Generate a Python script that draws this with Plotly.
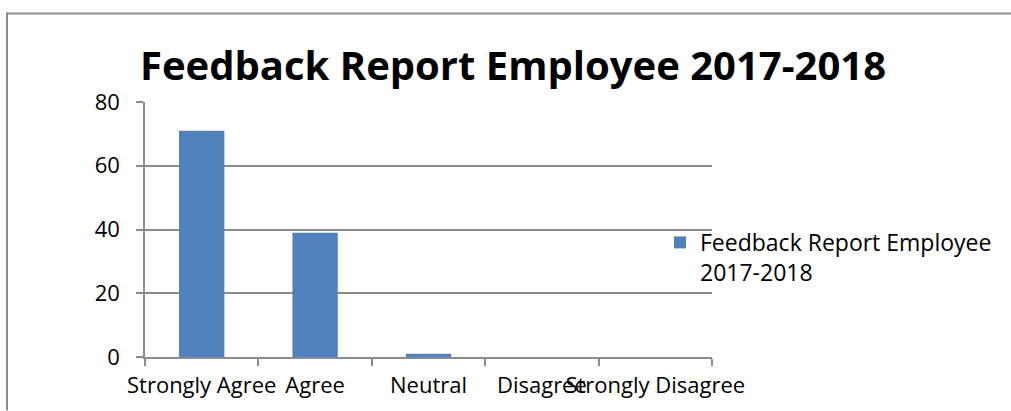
import plotly.graph_objects as go

categories = ["Strongly Agree", "Agree", "Neutral", "Disagree", "Strongly Disagree"]
values = [71, 39, 1, 0, 0]
series_name = "Feedback Report Employee<br>2017-2018"
title_text = "Feedback Report Employee 2017-2018"
y_ticks = [0, 20, 40, 60, 80]

W, H = 1011, 411
L, R, T, B = 145, 712, 101.7, 357.5

fig = go.Figure()
fig.add_trace(go.Bar(
    x=categories, y=values, name=series_name,
    marker=dict(color="#4F81BD", line=dict(color="#4F81BD", width=0)),
    width=0.4, showlegend=True,
))

axis_color = "#8C8C8C"
fig.update_layout(
    width=W, height=H,
    margin=dict(l=L, r=W - R, t=T, b=H - B, pad=0, autoexpand=False),
    paper_bgcolor="white", plot_bgcolor="white",
    font=dict(family="Open Sans", color="black"),
    title=dict(text="<b>" + title_text + "</b>", x=513 / W, xanchor="center",
               y=1 - 66 / H, yanchor="middle",
               font=dict(family="Open Sans", size=40, color="black")),
    showlegend=True,
    legend=dict(x=(660 - L) / (R - L), xanchor="left",
                y=1 - (221 - T) / (B - T), yanchor="top", valign="top",
                font=dict(size=23, color="black"),
                bgcolor="rgba(0,0,0,0)", itemwidth=30, tracegroupgap=0),
    bargap=0.6,
    xaxis=dict(
        type="category", tickangle=0, tickson="boundaries", automargin=False,
        ticks="outside", ticklen=7, tickcolor=axis_color, tickwidth=1.5,
        showline=True, linecolor=axis_color, linewidth=1.5,
        showgrid=False, tickfont=dict(size=22, color="black"),
        ticklabelstandoff=8,
        range=[-0.5, 4.5], fixedrange=True,
    ),
    yaxis=dict(
        range=[0, 80], tickvals=y_ticks, ticks="outside", ticklen=7,
        automargin=False,
        tickcolor=axis_color, tickwidth=1.5,
        showline=True, linecolor=axis_color, linewidth=1.5,
        showgrid=True, gridcolor=axis_color, gridwidth=1.5,
        zeroline=False, tickfont=dict(size=22, color="black"),
        ticklabelstandoff=12,
    ),
)

# outer chart frame: top and left edges (the rest lies outside the picture)
px_x = lambda p: (p - L) / (R - L)
px_y = lambda p: (B - p) / (B - T)
fig.add_shape(type="line", xref="paper", yref="paper",
              x0=px_x(7), x1=px_x(W), y0=px_y(13), y1=px_y(13),
              line=dict(color="#8C8C8C", width=2), layer="above")
fig.add_shape(type="line", xref="paper", yref="paper",
              x0=px_x(7), x1=px_x(7), y0=px_y(12), y1=px_y(H),
              line=dict(color="#8C8C8C", width=2), layer="above")

fig.write_html(
    "out.html",
    config={"displayModeBar": False},
    post_script="document.body.style.margin='0';document.body.style.overflow='hidden';",
)
